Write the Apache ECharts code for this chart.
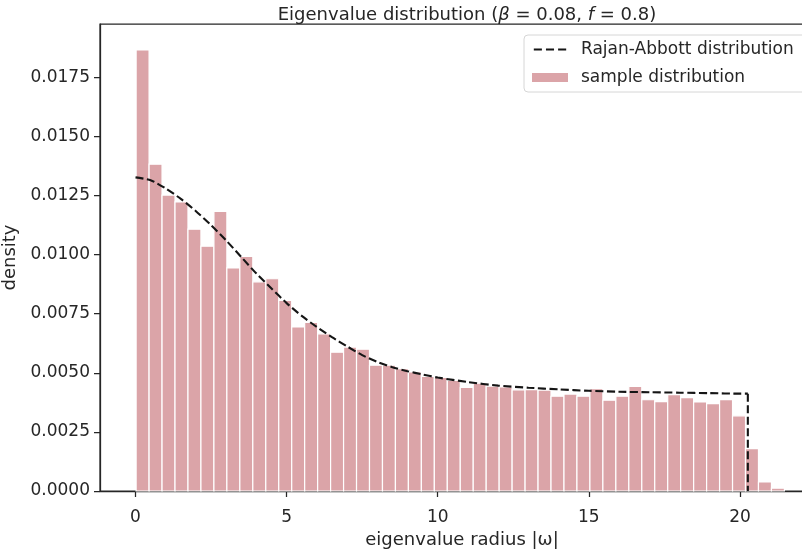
<!DOCTYPE html>
<html>
<head>
<meta charset="utf-8">
<style>
  html, body { margin: 0; padding: 0; background: #fff; }
  #chart { width: 802px; height: 549px; }
</style>
<script src="https://cdn.jsdelivr.net/npm/echarts@6/dist/echarts.min.js"></script>
</head>
<body>
<div id="chart"></div>
<script>
// Histogram of sampled eigenvalue radii: 50 equal bins
const binMin = 0.02;
const binMax = 21.47;
const binCount = 50;
const sampleDensity = [
  0.01866, 0.01383, 0.01252, 0.01223, 0.01108, 0.01036, 0.01183, 0.00944, 0.00993, 0.00885,
  0.00898, 0.00807, 0.00694, 0.00713, 0.00665, 0.00587, 0.00609, 0.00600, 0.00532, 0.00532,
  0.00518, 0.00504, 0.00485, 0.00481, 0.00468, 0.00438, 0.00456, 0.00444, 0.00440, 0.00428,
  0.00429, 0.00427, 0.00401, 0.00410, 0.00401, 0.00433, 0.00384, 0.00401, 0.00443, 0.00386,
  0.00378, 0.00408, 0.00395, 0.00377, 0.00370, 0.00387, 0.00318, 0.00179, 0.00038, 0.00012
];

// Rajan-Abbott theoretical density, sampled along the radius (support ends at 20.26)
const theoryRadius = [
  0, 0.5, 1, 1.5, 2, 2.5, 3, 3.5, 4, 4.5, 5, 5.5, 6, 6.5, 7, 7.5, 8, 8.5, 9, 9.5,
  10, 11, 12, 13, 14, 15, 16, 17, 18, 19, 20, 20.26
];
const theoryDensity = [
  0.01327, 0.01315, 0.01280, 0.01236, 0.01184, 0.01125, 0.01060, 0.00990, 0.00920, 0.00857,
  0.00795, 0.00741, 0.00694, 0.00651, 0.00612, 0.00575, 0.00546, 0.00524, 0.00507, 0.00493,
  0.00480, 0.00461, 0.00446, 0.00437, 0.00430, 0.00424, 0.00420, 0.00418, 0.00416, 0.00414,
  0.00412, 0.00412
];
const supportEdge = 20.26;

const xTicks = [0, 5, 10, 15, 20];
const yTicks = [0, 0.0025, 0.005, 0.0075, 0.01, 0.0125, 0.015, 0.0175];

const binWidth = (binMax - binMin) / binCount;
const histData = sampleDensity.map((h, i) => [binMin + i * binWidth, binMin + (i + 1) * binWidth, h]);
const curveData = theoryRadius.map((r, i) => [r, theoryDensity[i]]);
const dropData = [[supportEdge, theoryDensity[theoryDensity.length - 1]], [supportEdge, 0]];

const ink = '#262626';
const lineInk = '#151515';
const barFill = '#dba4a8';
const font = 'DejaVu Sans';
const dashStyle = { color: lineInk, width: 2.1, type: [8, 3.5] };

// three short dashes for the legend entry of the dashed curve
const dashIcon = 'path://M0,0h0.01v0.01h-0.01Z M36,10h0.01v0.01h-0.01Z ' +
  'M0,4H9V6H0Z M13.5,4H22.5V6H13.5Z M27,4H36V6H27Z';

const chart = echarts.init(document.getElementById('chart'), null, { renderer: 'canvas' });
chart.setOption({
  animation: false,
  backgroundColor: '#ffffff',
  textStyle: { fontFamily: font, color: ink },
  title: {
    text: '{n|Eigenvalue distribution (}{i|β}{n| = 0.08, }{i|f}{n| = 0.8)}',
    left: 462,
    textAlign: 'center',
    top: 1,
    textStyle: {
      fontWeight: 'normal',
      rich: {
        n: { fontFamily: font, fontSize: 18, fontWeight: 'normal', color: ink },
        i: { fontFamily: font, fontSize: 18, fontWeight: 'normal', fontStyle: 'italic', color: ink }
      }
    }
  },
  legend: {
    orient: 'vertical',
    left: 524,
    top: 35,
    padding: [6, 70, 6, 8],
    itemGap: 11,
    itemWidth: 36,
    itemHeight: 9,
    backgroundColor: '#ffffff',
    borderColor: '#d6d6d6',
    borderWidth: 1,
    borderRadius: 4,
    textStyle: { fontFamily: font, fontSize: 17, color: ink, padding: [0, 0, 0, 8] },
    data: [
      { name: 'Rajan-Abbott distribution', icon: dashIcon, itemStyle: { color: lineInk } },
      { name: 'sample distribution', icon: 'rect' }
    ]
  },
  grid: {
    left: 100,
    top: 24,
    width: 724,
    height: 467,
    outerBoundsMode: 'none',
    containLabel: false,
    show: true,
    borderColor: ink,
    borderWidth: 1.25,
    backgroundColor: 'transparent'
  },
  xAxis: {
    type: 'value',
    min: -1.175,
    max: 22.78,
    name: 'eigenvalue radius |ω|',
    nameLocation: 'middle',
    nameGap: 40,
    nameTextStyle: { fontFamily: font, fontSize: 18, color: ink },
    axisLine: { show: true, onZero: false, lineStyle: { color: ink, width: 1.25 } },
    axisTick: { show: true, length: 6, customValues: xTicks, lineStyle: { color: ink, width: 1.25 } },
    axisLabel: { customValues: xTicks, margin: 18, fontFamily: font, fontSize: 17, color: ink },
    splitLine: { show: false }
  },
  yAxis: {
    type: 'value',
    min: 0,
    max: 0.01976,
    name: 'density',
    nameLocation: 'middle',
    nameGap: 74,
    nameTextStyle: { fontFamily: font, fontSize: 18, color: ink },
    axisLine: { show: true, onZero: false, lineStyle: { color: ink, width: 1.25 } },
    axisTick: { show: true, length: 6, customValues: yTicks, lineStyle: { color: ink, width: 1.25 } },
    axisLabel: {
      customValues: yTicks,
      margin: 10,
      fontFamily: font,
      fontSize: 17,
      color: ink,
      formatter: v => v.toFixed(4)
    },
    splitLine: { show: false }
  },
  series: [
    {
      name: 'sample distribution',
      type: 'custom',
      itemStyle: { color: barFill },
      encode: { x: [0, 1], y: 2 },
      data: histData,
      z: 2,
      renderItem: (params, api) => {
        const top = api.coord([api.value(0), api.value(2)]);
        const base = api.coord([api.value(1), 0]);
        return {
          type: 'rect',
          shape: { x: top[0], y: top[1], width: base[0] - top[0], height: base[1] - top[1] },
          style: { fill: barFill, stroke: '#ffffff', lineWidth: 1.2 }
        };
      }
    },
    {
      name: 'Rajan-Abbott distribution',
      type: 'line',
      data: curveData,
      symbol: 'none',
      smooth: 0.25,
      z: 3,
      lineStyle: dashStyle,
      itemStyle: { color: lineInk }
    },
    {
      // vertical edge of the theoretical support
      name: 'Rajan-Abbott distribution',
      type: 'line',
      data: dropData,
      symbol: 'none',
      z: 3,
      lineStyle: dashStyle,
      itemStyle: { color: lineInk }
    }
  ]
});
</script>
</body>
</html>
